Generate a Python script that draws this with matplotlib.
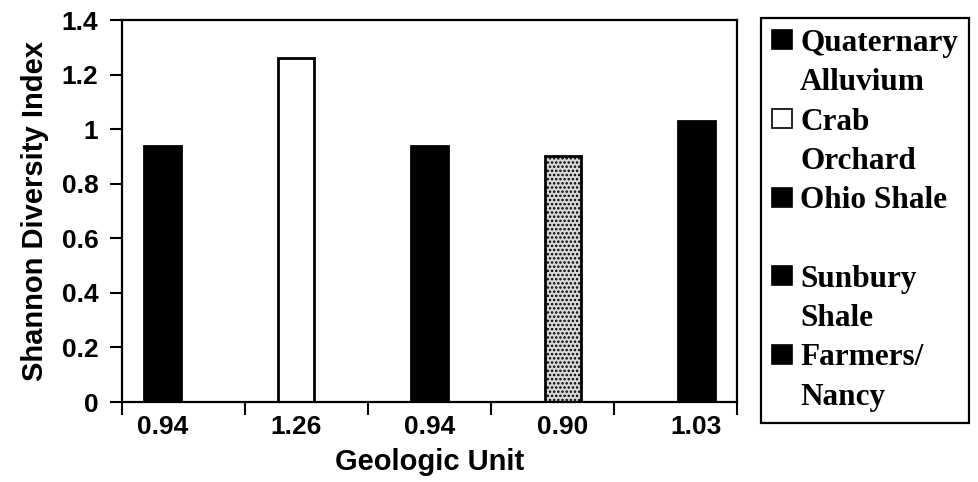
import numpy as np
import matplotlib
matplotlib.use("Agg")
import matplotlib.pyplot as plt
from matplotlib.patches import Patch


# data
units = ["Quaternary\nAlluvium", "Crab\nOrchard", "Ohio Shale\n", "Sunbury\nShale", "Farmers/\nNancy"]
shannon = [0.94, 1.26, 0.94, 0.90, 1.03]
tick_labels = ["0.94", "1.26", "0.94", "0.90", "1.03"]
yticks = [0, 0.2, 0.4, 0.6, 0.8, 1, 1.2, 1.4]
ytick_labels = ["0", "0.2", "0.4", "0.6", "0.8", "1", "1.2", "1.4"]

# styles
bar_faces = ["black", "white", "black", "#d9d9d9", "black"]
bar_hatches = [None, None, None, "....", None]
legend_faces = ["black", "white", "black", "black", "black"]

plt.rcParams["hatch.linewidth"] = 1.2
plt.rcParams["hatch.color"] = "#333333"

fig = plt.figure(figsize=(9.79, 4.82), dpi=100)
ax = fig.add_axes([122/979, 80/482, 615/979, 382/482])

x = np.arange(len(shannon))
shift = 0.085
width = 0.30
pos = x + (x - 2)*shift

for i in range(len(shannon)):
    ax.bar(pos[i], shannon[i], width=width, color=bar_faces[i], edgecolor="black",
           linewidth=2, hatch=bar_hatches[i], zorder=2)

ax.set_xlim(-0.5, len(shannon) - 0.5)
ax.set_ylim(0, 1.4)

sans = ["Liberation Sans", "Arial", "DejaVu Sans"]
serif = ["Liberation Serif", "Times New Roman", "DejaVu Serif"]

# category boundary ticks, labels under the bars
ax.set_xticks(np.arange(-0.5, len(shannon)), [""]*(len(shannon) + 1))
ax.set_xticks(pos, tick_labels, minor=True)
ax.tick_params(axis="x", which="major", direction="out", length=9, width=1.5)
ax.tick_params(axis="x", which="minor", length=0, pad=9)
ax.set_yticks(yticks, ytick_labels)
ax.tick_params(axis="y", direction="out", length=9, width=1.5, pad=8)
for lab in ax.get_xticklabels(minor=True) + ax.get_yticklabels():
    lab.set_fontfamily(sans)
    lab.set_fontweight("bold")
    lab.set_fontsize(19)

for sp in ax.spines.values():
    sp.set_linewidth(1.6)

ax.set_xlabel("Geologic Unit", fontfamily=sans, fontweight="bold", fontsize=21, labelpad=7)
ax.set_ylabel("Shannon Diversity Index", fontfamily=sans, fontweight="bold", fontsize=21, labelpad=9)

# legend: one row per text line, swatch only on the first line of each unit
handles = []
labels = []
for name, face in zip(units, legend_faces):
    first, second = name.split("\n")
    handles.append(Patch(facecolor=face, edgecolor="black", linewidth=1.2))
    labels.append(first)
    handles.append(Patch(facecolor="none", edgecolor="none"))
    labels.append(second)

leg = fig.legend(handles, labels, loc="upper left", bbox_to_anchor=(761/979, 1 - 18/482),
                 frameon=True, fancybox=False, framealpha=1, edgecolor="black",
                 prop={"family": serif, "weight": "bold", "size": 22.5},
                 handlelength=0.65, handleheight=0.55, handletextpad=0.25,
                 labelspacing=0.33, borderpad=0.35, borderaxespad=0)
leg.get_frame().set_linewidth(1.6)

fig.savefig("out.png", dpi=100)
